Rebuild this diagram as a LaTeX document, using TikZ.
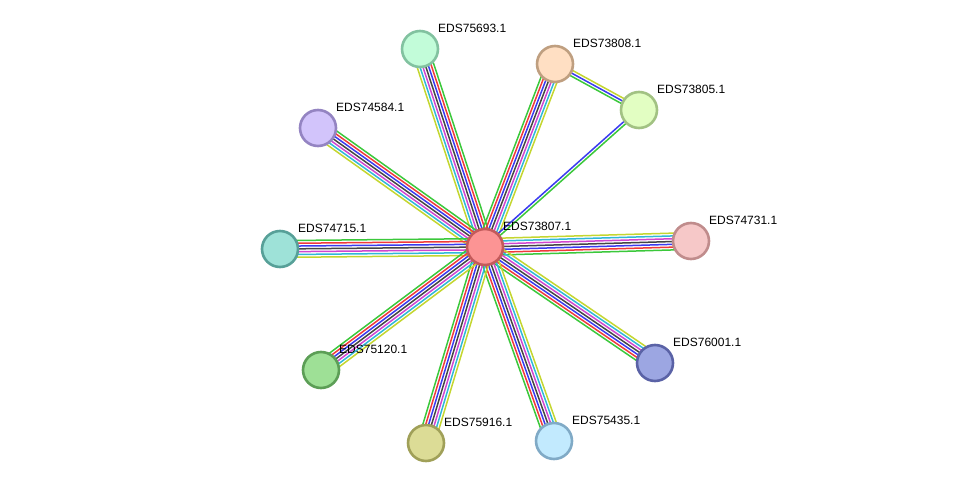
\documentclass[tikz,border=0pt]{standalone}
\usepackage{fontspec}
\setmainfont{Liberation Sans}
\usetikzlibrary{calc,backgrounds}
\definecolor{lkgreen}{HTML}{3BC83B}
\definecolor{lkred}{HTML}{F03A3A}
\definecolor{lkblue}{HTML}{3A3AF0}
\definecolor{lkblack}{HTML}{454545}
\definecolor{lkmagenta}{HTML}{D046D0}
\definecolor{lkcyan}{HTML}{30B8D8}
\definecolor{lkyellow}{HTML}{C4D630}

\begin{document}
\begin{tikzpicture}[x=1pt,y=-1pt,font=\fontsize{12}{14}\selectfont,
  prot/.style={circle,line width=2.6pt,minimum size=36pt,inner sep=0pt},
  tag/.style={anchor=base west,inner sep=0pt},
  link/.style={line width=1.5pt}]
  \useasboundingbox (0,0) rectangle (976,489);
  % proteins
  \node[prot,draw={rgb,255:red,195;green,90;blue,90},fill={rgb,255:red,252;green,148;blue,148}] (n73807) at (485,247) {};
  \node[prot,draw={rgb,255:red,130;green,194;blue,160},fill={rgb,255:red,194;green,252;blue,217}] (n75693) at (420,49) {};
  \node[prot,draw={rgb,255:red,191;green,159;blue,128},fill={rgb,255:red,255;green,223;blue,195}] (n73808) at (555,64) {};
  \node[prot,draw={rgb,255:red,162;green,194;blue,131},fill={rgb,255:red,226;green,254;blue,194}] (n73805) at (639,110) {};
  \node[prot,draw={rgb,255:red,148;green,132;blue,194},fill={rgb,255:red,210;green,196;blue,251}] (n74584) at (318,128) {};
  \node[prot,draw={rgb,255:red,87;green,160;blue,152},fill={rgb,255:red,158;green,226;blue,216}] (n74715) at (280,249) {};
  \node[prot,draw={rgb,255:red,192;green,140;blue,140},fill={rgb,255:red,246;green,200;blue,200}] (n74731) at (691,241) {};
  \node[prot,draw={rgb,255:red,90;green,98;blue,166},fill={rgb,255:red,156;green,166;blue,226}] (n76001) at (655,363) {};
  \node[prot,draw={rgb,255:red,128;green,170;blue,198},fill={rgb,255:red,194;green,234;blue,254}] (n75435) at (554,441) {};
  \node[prot,draw={rgb,255:red,160;green,160;blue,88},fill={rgb,255:red,220;green,220;blue,150}] (n75916) at (426,443) {};
  \node[prot,draw={rgb,255:red,92;green,158;blue,86},fill={rgb,255:red,158;green,224;blue,150}] (n75120) at (321,370) {};
  % labels
  \foreach \n in {73807,75693,73808,73805,74584,74715,74731,76001,75435,75916,75120}
    \node[tag] (t\n) at ($(n\n.center)+(18,-16.5)$) {EDS\n.1};
  % interactions
  \begin{scope}[on background layer]
    \foreach \a/\b in {n73807/n75693,n73808/n73807,n73807/n74584,n73807/n74715,n73807/n74731,n73807/n76001,n73807/n75435,n73807/n75916,n73807/n75120}
      \foreach \o/\c in {3/lkgreen,2/lkred,1/lkblue,0/lkblack,-1/lkmagenta,-2/lkcyan,-3/lkyellow}
        \draw[link,\c] ($(\a.center)!\o*2.8pt!-90:(\b.center)$) -- ($(\b.center)!\o*2.8pt!90:(\a.center)$);
    \foreach \o/\c in {1/lkgreen,0/lkblue,-1/lkyellow}
      \draw[link,\c] ($(n73808.center)!\o*2.8pt!-90:(n73805.center)$) -- ($(n73805.center)!\o*2.8pt!90:(n73808.center)$);
    \foreach \o/\c in {0.5/lkgreen,-0.5/lkblue}
      \draw[link,\c] ($(n73807.center)!\o*2.8pt!-90:(n73805.center)$) -- ($(n73805.center)!\o*2.8pt!90:(n73807.center)$);
  \end{scope}
\end{tikzpicture}
\end{document}
